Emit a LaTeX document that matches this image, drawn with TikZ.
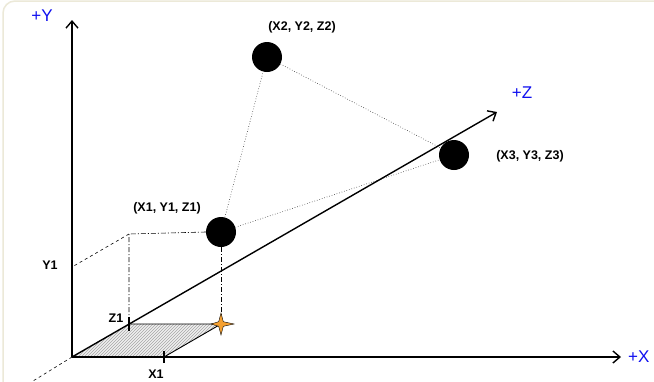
\documentclass[tikz,border=0pt]{standalone}
\usepackage{fontspec}
\setmainfont{Liberation Sans}
\usetikzlibrary{arrows.meta,patterns}
\definecolor{framec}{HTML}{ECE9D8}
\definecolor{starc}{HTML}{F5A030}
\definecolor{axlab}{HTML}{1010F0}
\tikzset{
  axis/.style={line width=1.4pt,-{Straight Barb[length=7pt,width=12pt,line width=1.4pt]}},
  ball/.style={circle,fill=black,minimum size=30pt,inner sep=0pt},
  link/.style={draw=black!80,line width=0.6pt,dotted},
  dashdot/.style={line width=0.6pt,dash pattern=on 5pt off 2pt on 1pt off 2pt},
  dashline/.style={line width=0.6pt,dash pattern=on 3pt off 3pt},
  lab/.style={font=\bfseries\fontsize{12.5}{14}\selectfont,inner sep=0pt},
  axl/.style={text=axlab,font=\fontsize{17}{20}\selectfont,inner sep=0pt},
  tick/.style={line width=1.3pt}
}
\begin{document}
\begin{tikzpicture}[x=1pt,y=-1pt]
\useasboundingbox (0,0) rectangle (654,381);
\fill[white] (0,0) rectangle (654,381);
\draw[framec,line width=1.5pt,rounded corners=12pt] (3,1) rectangle (680,410);
% coordinates
\coordinate (O) at (72,357);
\coordinate (Ytip) at (72,20);
\coordinate (Xtip) at (621,357);
\coordinate (Ztip) at (497,112);
\coordinate (Zneg) at (33,381);
\coordinate (C) at (129,234);
\coordinate (Yone) at (72,267);
\coordinate (Zone) at (129,324);
\coordinate (Xone) at (164,357);
\coordinate (S) at (221,324);
% hatched parallelogram
\fill[gray!12] (O) -- (Zone) -- (S) -- (Xone) -- cycle;
\fill[pattern=north east lines,pattern color=gray!70] (O) -- (Zone) -- (S) -- (Xone) -- cycle;
\draw[line width=0.9pt] (Zone) -- (S) -- (Xone);
% balls
\node[ball] (P1) at (221,232) {};
\node[ball] (P2) at (267,57) {};
\node[ball] (P3) at (454,155) {};
% links
\draw[link] (P1) -- (P2);
\draw[link] (P2) -- (P3);
\draw[link] (P1) -- (P3);
% construction lines
\draw[dashdot] (P1.west) -- (C) -- (Zone);
\draw[dashdot] (P1.south) -- (S);
\draw[dashline] (C) -- (Yone);
\draw[dashline] (O) -- (Zneg);
% axes
\draw[axis] (O) -- (Ytip);
\draw[axis] (O) -- (Xtip);
\draw[axis] (O) -- (Ztip);
% ticks
\draw[tick] (129,317) -- (129,331);
\draw[tick] (164,351) -- (164,363);
% star
\filldraw[fill=starc,draw=black,line width=0.4pt] (S) ++(0,-11) -- ++(2.3,8.7) -- ++(10.7,2.3) -- ++(-10.7,2.3) -- ++(-2.3,8.7) -- ++(-2.3,-8.7) -- ++(-7.7,-2.3) -- ++(7.7,-2.3) -- cycle;
% labels
\node[lab] (L1) at (167,208) {(X1, Y1, Z1)};
\node[lab] (L2) at (302,27) {(X2, Y2, Z2)};
\node[lab] (L3) at (530,156) {(X3, Y3, Z3)};
\node[lab] (LY1) at (50,265) {Y1};
\node[lab] (LZ1) at (116,318) {Z1};
\node[lab] (LX1) at (156,374) {X1};
\node[axl] (AY) at (42,16) {+Y};
\node[axl] (AZ) at (522,93) {+Z};
\node[axl,anchor=west] (AX) at (628,357) {+X};
\end{tikzpicture}
\end{document}
